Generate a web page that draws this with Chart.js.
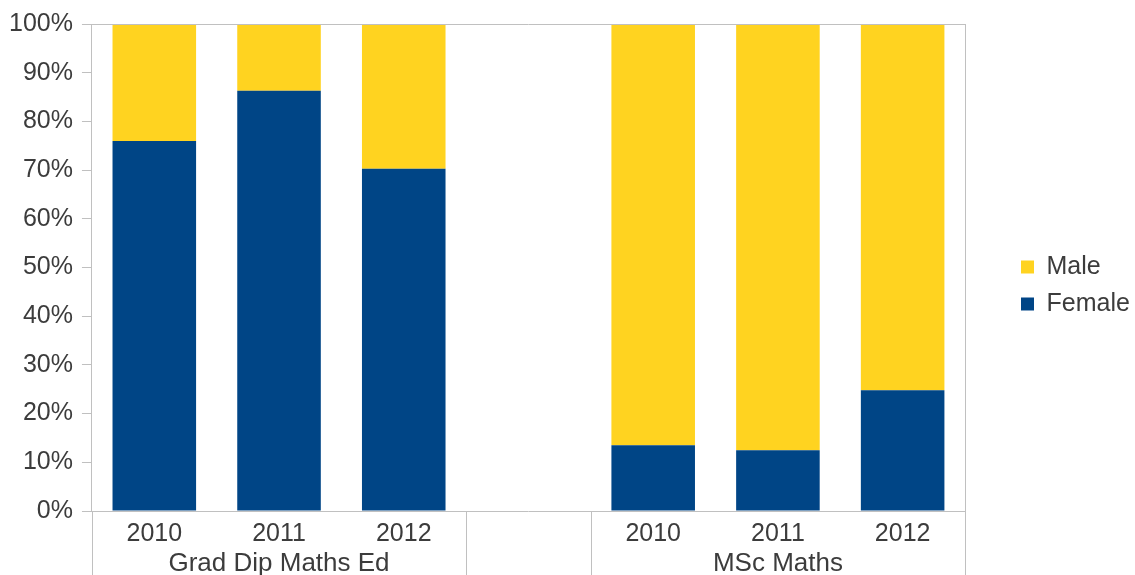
<!DOCTYPE html>
<html>
<head>
<meta charset="utf-8">
<script src="https://cdn.jsdelivr.net/npm/chart.js@4"></script>
<style>
  html, body { margin: 0; padding: 0; background: #fff; }
  #wrap { width: 1135px; height: 575px; }
</style>
</head>
<body>
<div id="wrap"><canvas id="chart"></canvas></div>
<script>
// categories along the x axis (empty slot separates the two programmes)
const categories = ['2010', '2011', '2012', '', '2010', '2011', '2012'];
// second row of labels: programme names, centred under their group
const groupLabels = ['', 'Grad Dip Maths Ed', '', '', '', 'MSc Maths', ''];
// category indexes where the group divider lines sit
const groupBounds = [0, 3, 4, 7];

// share of students, %
const female = [76, 86.3, 70.3, null, 13.5, 12.5, 24.8];
const male = [24, 13.7, 29.7, null, 86.5, 87.5, 75.2];

const yTicks = [0, 10, 20, 30, 40, 50, 60, 70, 80, 90, 100];

const axisColor = '#c0c0c0';
const textColor = '#3c3c3c';
const font = { family: '"Liberation Sans", Arial, sans-serif', size: 25 };
const groupFont = { family: '"Liberation Sans", Arial, sans-serif', size: 26 };

// frame top line and the divider lines under the x axis
const framePlugin = {
    id: 'frame',
    afterLayout(chart) {
        // centre the legend on the plot area rather than the whole canvas height
        const lg = chart.legend;
        lg.bottom = chart.chartArea.bottom + 36;
        lg.height = lg.bottom - lg.top;
    },
    afterDraw(chart) {
        const c = chart.ctx;
        const area = chart.chartArea;
        const x = chart.scales.x;
        const half = (x.getPixelForValue(1) - x.getPixelForValue(0)) / 2;
        c.save();
        c.strokeStyle = axisColor;
        c.lineWidth = 1;
        c.beginPath();
        c.moveTo(area.left, area.top + 0.5);
        c.lineTo(area.right, area.top + 0.5);
        groupBounds.forEach(i => {
            const px = Math.round(x.getPixelForValue(i) - half) + 0.5;
            c.moveTo(px, area.bottom);
            c.lineTo(px, chart.height);
        });
        c.stroke();
        c.restore();
    }
};

new Chart(document.getElementById('chart'), {
    type: 'bar',
    data: {
        labels: categories,
        datasets: [
            {
                label: 'Female',
                data: female,
                backgroundColor: '#004586',
                categoryPercentage: 1,
                barPercentage: 0.67
            },
            {
                label: 'Male',
                data: male,
                backgroundColor: '#ffd320',
                categoryPercentage: 1,
                barPercentage: 0.67
            }
        ]
    },
    options: {
        responsive: true,
        maintainAspectRatio: false,
        animation: false,
        layout: { padding: { top: 24, left: 0, right: 0, bottom: 0 } },
        plugins: {
            tooltip: { enabled: false },
            legend: {
                position: 'right',
                reverse: true,
                maxWidth: 126,
                labels: {
                    boxWidth: 13,
                    boxHeight: 13,
                    padding: 12,
                    color: textColor,
                    font: font
                }
            }
        },
        scales: {
            x: {
                stacked: true,
                grid: { display: true, drawOnChartArea: false, drawTicks: false },
                border: { display: true, color: axisColor },
                ticks: { color: textColor, font: font, padding: 8, maxRotation: 0, autoSkip: false },
                afterFit: s => { s.height = 31; }
            },
            x2: {
                type: 'category',
                labels: groupLabels,
                position: 'bottom',
                grid: { display: false, drawTicks: false },
                border: { display: false },
                ticks: { color: textColor, font: groupFont, padding: 6, maxRotation: 0, autoSkip: false },
                afterFit: s => { s.height = 33; }
            },
            y: {
                stacked: true,
                min: 0,
                max: 100,
                afterBuildTicks: s => { s.ticks = yTicks.map(v => ({ value: v })); },
                grid: { drawOnChartArea: false, drawTicks: true, tickLength: 10, color: axisColor },
                border: { display: true, color: axisColor },
                ticks: { color: textColor, font: font, padding: 9, callback: v => v + '%' }
            },
            y2: {
                position: 'right',
                min: 0,
                max: 100,
                grid: { display: false },
                border: { display: true, color: axisColor },
                ticks: { display: false },
                afterFit: s => { s.width = 44; }
            }
        }
    },
    plugins: [framePlugin]
});
</script>
</body>
</html>
